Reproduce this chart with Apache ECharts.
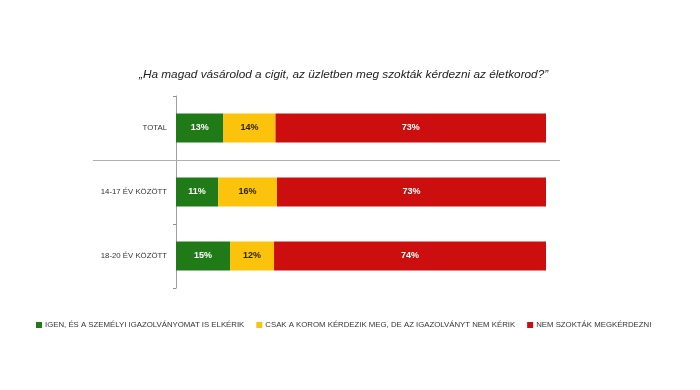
<!DOCTYPE html>
<html><head><meta charset="utf-8">
<script src="https://cdn.jsdelivr.net/npm/echarts@6/dist/echarts.min.js"></script>
<style>html,body{margin:0;padding:0;background:#fff}#c{width:700px;height:390px}</style>
</head><body><div id="c"></div>
<script>
const categories = ['TOTAL', '14-17 ÉV KÖZÖTT', '18-20 ÉV KÖZÖTT'];
const seriesNames = ['IGEN, ÉS A SZEMÉLYI IGAZOLVÁNYOMAT IS ELKÉRIK', 'CSAK A KOROM KÉRDEZIK MEG, DE AZ IGAZOLVÁNYT NEM KÉRIK', 'NEM SZOKTÁK MEGKÉRDEZNI'];
const igen = [12.8, 11.4, 14.6];
const csakKor = [14.1, 15.9, 11.9];
const nem = [73.1, 72.7, 73.5];
const colors = ['#1f7a17', '#fcc30d', '#cc0e0e'];
const labelColors = ['#ffffff', '#2b2200', '#ffffff'];
const values = [igen, csakKor, nem];

const chart = echarts.init(document.getElementById('c'));
const font = '"Liberation Sans", Arial, sans-serif';
chart.setOption({
  animation: false,
  textStyle: { fontFamily: font },
  title: {
    text: '„Ha magad vásárolod a cigit, az üzletben meg szokták kérdezni az életkorod?”',
    left: 134, top: 64,
    textStyle: { fontSize: 11.8, fontStyle: 'italic', fontWeight: 'normal', color: '#222', fontFamily: font }
  },
  legend: {
    left: 31, top: 316, itemWidth: 6, itemHeight: 6, itemGap: 12,
    icon: 'rect',
    textStyle: { fontSize: 7.8, color: '#333', fontFamily: font, padding: [0, 0, 0, -2] },
    data: seriesNames
  },
  grid: { left: 176, right: 154, top: 96, bottom: 102 },
  xAxis: { type: 'value', min: 0, max: 100, show: false },
  yAxis: {
    type: 'category', data: categories, inverse: true,
    axisLine: { lineStyle: { color: '#a0a0a0' } },
    axisTick: { show: true, length: 3, alignWithLabel: false, lineStyle: { color: '#909090' } },
    axisLabel: { fontSize: 7.8, color: '#333', margin: 9 }
  },
  series: values.map((v, i) => ({
    name: seriesNames[i], type: 'bar', stack: 'a', data: v, barWidth: 29,
    itemStyle: { color: colors[i] },
    label: {
      show: true, position: 'inside', color: labelColors[i], fontWeight: 'bold', fontSize: 9,
      formatter: p => Math.round(p.value) + '%'
    }
  }))
});
const y0 = chart.convertToPixel({ yAxisIndex: 0 }, categories[0]);
const y1 = chart.convertToPixel({ yAxisIndex: 0 }, categories[1]);
const ySep = Math.round((y0 + y1) / 2) + 0.5;
chart.setOption({
  graphic: [{
    type: 'line', shape: { x1: 93, y1: ySep, x2: 560, y2: ySep },
    style: { stroke: '#b0b0b0', lineWidth: 1 }, z: 10
  }]
});
</script></body></html>
